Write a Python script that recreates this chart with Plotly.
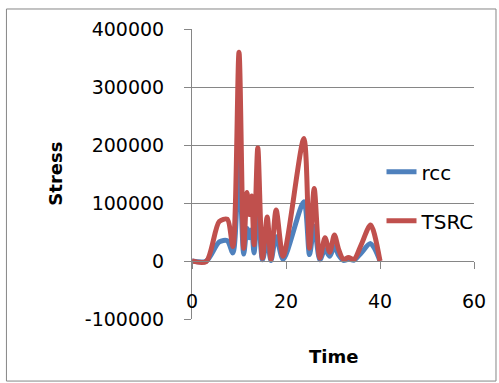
import plotly.graph_objects as go

time = [0, 3, 5.8, 7.5, 8.7, 10, 11, 11.7, 12.2, 12.7, 13.2, 14, 15, 16, 16.8, 17.9, 19.4,
        23.8, 25, 26, 27.2, 28.3, 29.3, 30.3, 31.2, 32.2, 33.3, 34.5, 36, 38, 40]
tsrc = [0, -1000, 68000, 72000, 25000, 360000, 22000, 118000, 80000, 112000, 28000, 195000,
        5000, 76000, 3000, 88000, 8000, 211000, 22000, 125000, 5000, 40000, 15000, 45000,
        20000, 3000, 6000, 3000, 28000, 62000, 0]
rcc = [0, -500, 33000, 35000, 14000, 172000, 12000, 56000, 40000, 54000, 14000, 92000,
       2000, 36000, 1000, 42000, 3000, 102000, 11000, 60000, 2000, 20000, 8000, 25000,
       10000, 1000, 3000, 1500, 14000, 30000, 0]

y_ticks = [-100000, 0, 100000, 200000, 300000, 400000]
y_labels = ["-100000", "0", "100000", "200000", "300000", "400000"]
x_ticks = [0, 20, 40, 60]
x_labels = ["0", "20", "40", "60"]

FONT = "DejaVu Sans"
GRAY = "#868686"

fig = go.Figure()
fig.add_trace(go.Scatter(x=time, y=rcc, name="rcc", mode="lines",
                         line=dict(color="#4F81BD", width=5, shape="spline", smoothing=0.8),
                         legendgroup="a"))
fig.add_trace(go.Scatter(x=time, y=tsrc, name="TSRC", mode="lines",
                         line=dict(color="#C0504D", width=5, shape="spline", smoothing=0.8),
                         legendgroup="b"))

fig.update_layout(
    width=499, height=383,
    margin=dict(l=192, r=25, t=29, b=64),
    paper_bgcolor="white", plot_bgcolor="white",
    font=dict(family=FONT, size=19, color="black"),
    showlegend=True,
    legend=dict(x=0.672, y=0.575, xanchor="left", yanchor="top",
                bgcolor="rgba(0,0,0,0)", font=dict(size=20, family=FONT),
                traceorder="grouped", tracegroupgap=20),
    xaxis=dict(range=[0, 60], tickmode="array", tickvals=x_ticks, ticktext=x_labels,
               showgrid=False, zeroline=False, showline=True, linecolor=GRAY, linewidth=1,
               ticks="outside", ticklen=7, tickcolor=GRAY, anchor="free", position=0.2,
               ticklabelstandoff=16, tickfont=dict(size=19, family=FONT)),
    yaxis=dict(range=[-100000, 400000], tickmode="array", tickvals=y_ticks, ticktext=y_labels,
               showgrid=True, gridcolor=GRAY, gridwidth=1, zeroline=False,
               showline=True, linecolor=GRAY, linewidth=1,
               ticks="outside", ticklen=7, tickcolor=GRAY, ticklabelstandoff=16,
               tickfont=dict(size=19, family=FONT)),
    annotations=[
        dict(text="<b>Stress</b>", xref="paper", yref="paper", x=-0.487, y=0.5,
             xanchor="center", yanchor="middle",
             textangle=-90, showarrow=False, font=dict(size=18, family=FONT)),
        dict(text="<b>Time</b>", xref="paper", yref="paper", x=0.5, y=-0.131,
             xanchor="center", yanchor="middle",
             showarrow=False, font=dict(size=18, family=FONT)),
    ],
    shapes=[dict(type="rect", xref="paper", yref="paper", x0=-0.658, x1=1.078,
                 y0=-0.214, y1=1.069, line=dict(color=GRAY, width=1), layer="below")],
)

fig.write_html("out.html")
